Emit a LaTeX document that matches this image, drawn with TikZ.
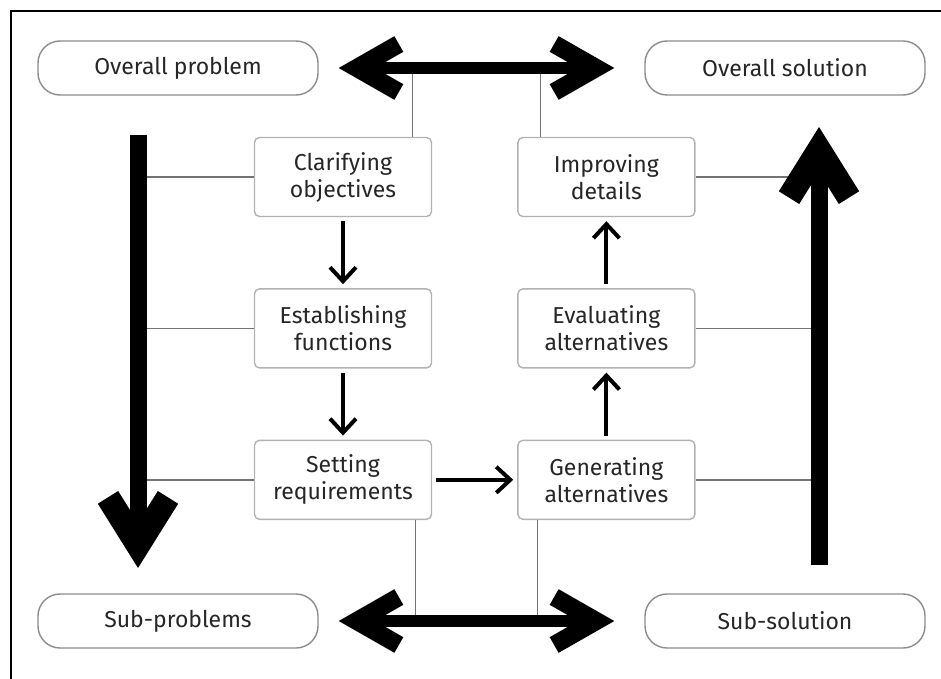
\documentclass[tikz,border=0pt]{standalone}
\usepackage{fontspec}
\setmainfont{Fira Sans}
\usetikzlibrary{positioning, arrows.meta}

\tikzset{
  stagebox/.style={draw=black!30, line width=0.7pt, rounded corners=2.5pt, fill=white,
    minimum width=88.5pt, minimum height=39.5pt, align=center, text=black!85,
    inner xsep=2pt, font=\fontsize{11.5}{13.5}\selectfont},
  endbox/.style={draw=black!45, line width=0.7pt, rounded corners=11pt, fill=white,
    minimum width=140pt, minimum height=27pt, text=black!85,
    font=\fontsize{11.5}{13.5}\selectfont},
  flow/.style={line width=2pt, -{Straight Barb[length=7pt, width=13pt]},
    shorten <=2pt, shorten >=2pt},
  link/.style={draw=black!55, line width=0.7pt},
  bigarrow/.style={line width=6pt,
    {Straight Barb[length=21pt, width=24pt, line width=9pt]}-{Straight Barb[length=21pt, width=24pt, line width=9pt]}},
  bigvert/.style={line width=8.5pt,
    -{Straight Barb[length=24pt, width=30pt, line width=12pt]}},
}

\begin{document}
\begin{tikzpicture}[x=0.5pt, y=-0.5pt]
  \useasboundingbox (0,0) rectangle (941,679);
  % frame
  \draw[line width=1pt] (11,700) -- (11,11) -- (960,11);

  % end states
  \node[endbox] (op) at (178,68) {Overall problem};
  \node[endbox] (os) at (785,68) {Overall solution};
  \node[endbox] (sp) at (178,621) {Sub-problems};
  \node[endbox] (ss) at (785,621) {Sub-solution};

  % stages
  \node[stagebox] (co) at (343,177) {Clarifying\\objectives};
  \node[stagebox, below=35.5pt of co] (ef) {Establishing\\functions};
  \node[stagebox, below=35.5pt of ef] (sr) {Setting\\requirements};
  \node[stagebox, right=42.5pt of co] (id) {Improving\\details};
  \node[stagebox, right=42.5pt of ef] (ea) {Evaluating\\alternatives};
  \node[stagebox, right=42.5pt of sr] (ga) {Generating\\alternatives};

  \coordinate (ltop) at (138,135);
  \coordinate (lbot) at (138,568);
  \coordinate (rbot) at (819,565);
  \coordinate (rtop) at (819,127);

  % thin links
  \foreach \n in {co, ef, sr}
    \draw[link] (\n.west) -- (\n.west -| ltop);
  \foreach \n in {id, ea, ga}
    \draw[link] (\n.east) -- (\n.east -| rtop);
  \draw[link] ([xshift=-10pt]co.north east) -- ([xshift=-10pt]co.north east |- op.east);
  \draw[link] ([xshift=11.5pt]id.north west) -- ([xshift=11.5pt]id.north west |- os.west);
  \draw[link] ([xshift=-8.5pt]sr.south east) -- ([xshift=-8.5pt]sr.south east |- sp.east);
  \draw[link] ([xshift=10pt]ga.south west) -- ([xshift=10pt]ga.south west |- ss.west);

  % stage flow
  \draw[flow] (co) -- (ef);
  \draw[flow] (ef) -- (sr);
  \draw[flow] (sr) -- (ga);
  \draw[flow] (ga) -- (ea);
  \draw[flow] (ea) -- (id);

  % big arrows
  \draw[bigarrow, shorten <=10pt, shorten >=15pt] (op.east) -- (os.west);
  \draw[bigarrow, shorten <=10pt, shorten >=15pt] (sp.east) -- (ss.west);
  \draw[bigvert] (ltop) -- (lbot);
  \draw[bigvert] (rbot) -- (rtop);
\end{tikzpicture}
\end{document}
